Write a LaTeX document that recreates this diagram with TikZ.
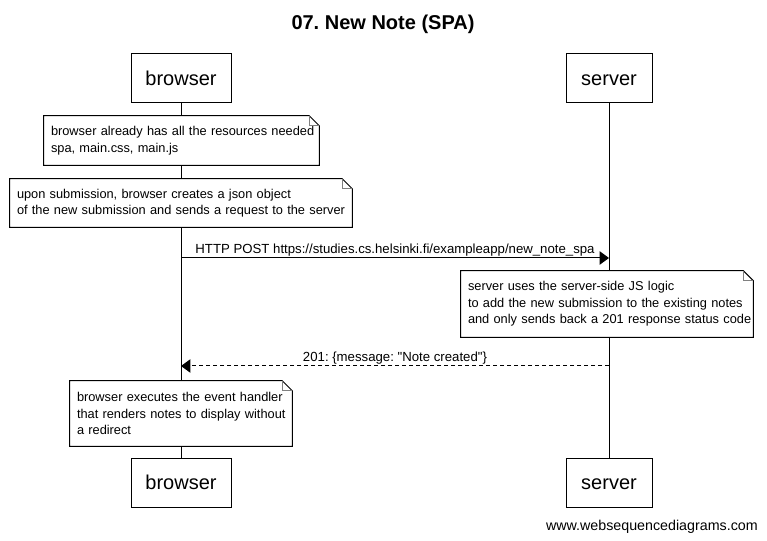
\documentclass[tikz,border=0pt]{standalone}
\usepackage{fontspec}
\setmainfont{Liberation Sans}[Ligatures=TeXOff]
\usetikzlibrary{arrows.meta}
\frenchspacing
\begin{document}
\begin{tikzpicture}[x=0.75pt,y=-0.75pt,
  actor/.style={draw,line width=0.75pt,minimum height=36.75pt,inner sep=0pt,text height=10.8pt,text depth=0pt,fill=white,font=\fontsize{15}{18}\selectfont},
  notebox/.style={fill=white,inner xsep=5.25pt,inner ysep=0pt,align=left,font=\fontsize{9.6}{12.4}\selectfont},
  noteline/.style={line width=0.75pt},
  foldline/.style={line width=0.5pt,draw=gray},
  lifeline/.style={line width=0.75pt},
  msg/.style={line width=0.75pt,-{Triangle[length=7pt,width=10pt]}},
  reply/.style={msg,dash pattern=on 3pt off 2.25pt},
  msglabel/.style={font=\fontsize{9.9}{12}\selectfont,inner sep=1pt}]
\useasboundingbox (0,0) rectangle (767,541);
% title
\node[font=\bfseries\fontsize{15}{18}\selectfont] (title) at (383,24) {07. New Note (SPA)};
% participants
\node[actor,minimum width=75pt] (bt) at (181,78.5) {browser};
\node[actor,minimum width=64.5pt] (st) at (609,78.5) {server};
\node[actor,minimum width=75pt] (bb) at (181,482.5) {browser};
\node[actor,minimum width=64.5pt] (sb) at (609,482.5) {server};
% lifelines
\draw[lifeline] (bt.south) -- (bb.north);
\draw[lifeline] (st.south) -- (sb.north);
% note 1
\node[notebox,text width=195.75pt,minimum height=36.75pt] (n1) at (181.5,140.5)
  {\mbox{browser already has all the resources needed}\\\mbox{spa, main.css, main.js}};
% note 2
\node[notebox,text width=246pt,minimum height=36pt] (n2) at (181,203)
  {\mbox{upon submission, browser creates a json object}\\\mbox{of the new submission and sends a request to the server}};
% note 3
\node[notebox,text width=208.5pt,minimum height=49.5pt] (n3) at (607,304)
  {\mbox{server uses the server-side JS logic}\\\mbox{to add the new submission to the existing notes}\\\mbox{and only sends back a 201 response status code}};
% note 4
\node[notebox,text width=156pt,minimum height=48.75pt] (n4) at (181,413.5)
  {\mbox{browser executes the event handler}\\\mbox{that renders notes to display without}\\\mbox{a redirect}};
\foreach \n in {n1,n2,n3,n4}{
  \draw[noteline] (\n.north west) -- ([xshift=-7.5pt]\n.north east) -- ([yshift=-7.5pt]\n.north east) -- (\n.south east) -- (\n.south west) -- cycle;
  \draw[foldline] ([xshift=-7.5pt]\n.north east) |- ([yshift=-7.5pt]\n.north east);
}
% messages
\coordinate (b1) at (181,258);
\coordinate (s1) at (609,258);
\coordinate (b2) at (181,366);
\coordinate (s2) at (609,366);
\draw[msg] (b1) -- (s1) node[midway,above,msglabel] {HTTP POST https://studies.cs.helsinki.fi/exampleapp/new\_note\_spa};
\draw[reply] (s2) -- (b2) node[midway,above,msglabel] {201: \{message: "Note created"\}};
% footer
\node[anchor=east,font=\fontsize{10.7}{12}\selectfont,inner sep=0pt] (web) at (758,527) {www.websequencediagrams.com};
\end{tikzpicture}
\end{document}
